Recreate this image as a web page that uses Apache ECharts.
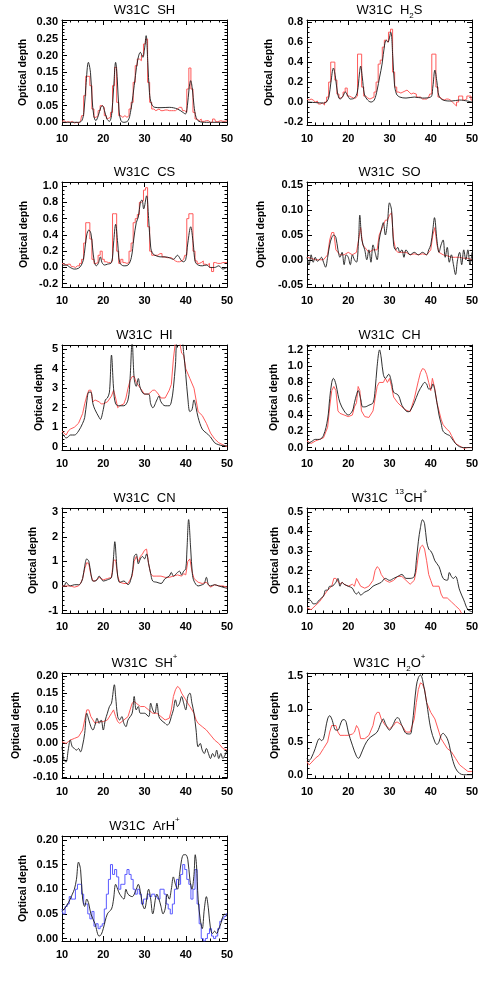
<!DOCTYPE html>
<html>
<head>
<meta charset="utf-8">
<script src="https://cdn.jsdelivr.net/npm/echarts@6/dist/echarts.min.js"></script>
<style>
  html, body { margin: 0; padding: 0; background: #fff; }
  #chart { width: 491px; height: 981px; }
</style>
</head>
<body>
<div id="chart"></div>
<script>
// velocity (km/s) vs optical depth
const velTicks = [10, 20, 30, 40, 50];

const shBlack = [[10,0],[12,0],[14,0],[14.8,0.005],[15.3,0.03],[15.8,0.11],[16.4,0.18],[16.9,0.15],[17.3,0.07],[17.7,0.02],[18.2,0.005],[18.8,0.02],[19.4,0.045],[19.8,0.05],[20.3,0.035],[20.9,0.01],[21.5,0.003],[22,0.02],[22.5,0.1],[23,0.18],[23.4,0.13],[23.8,0.04],[24.3,0.005],[25,0],[26,0.005],[26.6,0.03],[27.2,0.08],[27.8,0.14],[28.4,0.19],[29,0.21],[29.6,0.195],[30,0.22],[30.4,0.26],[30.8,0.18],[31.2,0.09],[31.7,0.055],[32.5,0.045],[34,0.044],[36,0.045],[38,0.04],[39.3,0.03],[39.9,0.025],[40.4,0.05],[40.8,0.1],[41.2,0.125],[41.6,0.1],[42,0.05],[42.5,0.015],[43.2,0.003],[45,0],[50,0]];
const shRed = [[10,0.003],[10.5,0.005],[11,0],[11.5,0.002],[12,0],[12.5,0.003],[13,-0.002],[13.5,0],[14,-0.002],[14.5,0.003],[15,0.02],[15.5,0.08],[16,0.138],[16.5,0.138],[17,0.11],[17.5,0.04],[18,0.015],[18.5,0.02],[19,0.035],[19.5,0.05],[20,0.045],[20.5,0.02],[21,0.012],[21.5,0.015],[22,0.03],[22.5,0.11],[23,0.165],[23.5,0.06],[24,0.02],[24.5,0.015],[25,0.02],[25.5,0.015],[26,0.02],[26.5,0.04],[27,0.06],[27.5,0.12],[28,0.17],[28.5,0.19],[29,0.185],[29.5,0.2],[30,0.235],[30.5,0.25],[31,0.12],[31.5,0.06],[32,0.04],[32.5,0.035],[33,0.04],[34,0.035],[35,0.037],[36,0.035],[37,0.035],[38,0.04],[38.5,0.045],[39,0.045],[39.5,0.035],[40,0.03],[40.5,0.1],[41,0.163],[41.5,0.1],[42,0.03],[42.5,0.01],[43,0.005],[43.5,0.01],[44,0.003],[45,0.005],[46,0],[47,0.01],[47.5,0.002],[48,0.005],[49,0.003],[50,0.005]];

const h2sBlack = [[10,0],[12,-0.005],[14,-0.01],[14.7,0],[15.3,0.05],[15.8,0.2],[16.4,0.34],[16.9,0.25],[17.4,0.09],[18,0.03],[18.6,0.05],[19.3,0.1],[19.8,0.07],[20.5,0.03],[21.5,0.04],[22.2,0.1],[22.7,0.28],[23,0.36],[23.4,0.25],[23.9,0.08],[24.5,0.03],[25.5,0],[26.3,0.02],[27,0.12],[27.6,0.25],[28.2,0.38],[28.8,0.57],[29.2,0.62],[29.6,0.6],[30.3,0.7],[30.8,0.45],[31.2,0.18],[31.7,0.08],[32.5,0.05],[34,0.04],[36,0.05],[38,0.04],[40,0.05],[40.5,0.15],[41,0.32],[41.5,0.2],[42,0.06],[43,0.02],[45,0.01],[47,0.02],[50,0]];
const h2sRed = [[10,0.03],[10.5,0.02],[11,0.03],[11.5,0.02],[12,0],[12.5,0.01],[13,-0.02],[13.5,-0.01],[14,-0.03],[14.5,0],[15,0.05],[15.5,0.2],[16,0.4],[16.5,0.4],[17,0.22],[17.5,0.08],[18,0.04],[18.5,0.06],[19,0.1],[19.5,0.14],[20,0.06],[20.5,0.05],[21,0.04],[21.5,0.04],[22,0.06],[22.5,0.48],[23,0.48],[23.5,0.15],[24,0.06],[24.5,0.04],[25,0.03],[25.5,0.04],[26,0.05],[26.5,0.1],[27,0.2],[27.5,0.38],[28,0.42],[28.5,0.55],[29,0.62],[29.5,0.6],[30,0.7],[30.5,0.73],[31,0.3],[31.5,0.15],[32,0.1],[32.5,0.09],[33,0.1],[33.5,0.11],[34,0.12],[34.5,0.1],[35,0.08],[35.5,0.09],[36,0.08],[37,0.05],[38,0.03],[39,0.03],[39.5,0.05],[40,0.08],[40.5,0.48],[41,0.48],[41.5,0.15],[42,0.05],[42.5,0.03],[43,0.02],[43.5,0.03],[44,0.03],[44.5,0.02],[45,0],[45.5,-0.02],[46,-0.04],[46.5,0],[47,0.06],[47.5,0.06],[48,0.02],[48.5,0.03],[49,0.06],[49.5,0.06],[50,0.02]];

const csBlack = [[10,0.02],[11,0.03],[12,0],[13,-0.02],[14,-0.01],[14.7,0.03],[15.2,0.1],[15.6,0.25],[16,0.4],[16.5,0.46],[17,0.42],[17.4,0.25],[17.8,0.08],[18.3,0.02],[18.8,0.05],[19.3,0.13],[19.7,0.06],[20.3,0.03],[21,0.04],[22,0.06],[22.5,0.3],[23,0.53],[23.5,0.3],[24,0.06],[25,0.02],[26,0.03],[26.8,0.12],[27.4,0.35],[28,0.55],[28.5,0.62],[29,0.8],[29.4,0.83],[29.8,0.72],[30.5,0.88],[31,0.6],[31.5,0.25],[32,0.17],[33,0.14],[34,0.13],[35,0.13],[36,0.12],[37,0.1],[38,0.15],[38.5,0.12],[39,0.08],[39.5,0.07],[40,0.1],[40.5,0.3],[41.2,0.5],[41.8,0.3],[42.3,0.07],[43,0.03],[44,0.02],[45,0.03],[46,0],[47,0],[48,0.02],[49,-0.02],[50,0]];
const csRed = [[10,0.05],[10.5,0.04],[11,0.03],[11.5,0.04],[12,0.04],[12.5,0.01],[13,0],[13.5,0.02],[14,0.02],[14.5,0.05],[15,0.1],[15.5,0.3],[16,0.55],[16.5,0.55],[17,0.35],[17.5,0.1],[18,0.05],[18.5,0.06],[19,0.15],[19.5,0.2],[20,0.1],[20.5,0.07],[21,0.06],[21.5,0.06],[22,0.08],[22.5,0.66],[23,0.66],[23.5,0.2],[24,0.05],[24.5,0.1],[25,0.06],[25.5,0.05],[26,0.06],[26.5,0.2],[27,0.3],[27.5,0.55],[28,0.6],[28.5,0.65],[29,0.8],[29.5,0.82],[30,0.95],[30.5,0.98],[31,0.5],[31.5,0.2],[32,0.15],[32.5,0.15],[33,0.15],[33.5,0.17],[34,0.17],[34.5,0.13],[35,0.12],[36,0.12],[37,0.1],[37.5,0.08],[38,0.07],[39,0.08],[39.5,0.1],[40,0.15],[40.5,0.6],[41,0.66],[41.5,0.66],[42,0.2],[42.5,0.08],[43,0.05],[43.5,0.06],[44,0.08],[44.5,0.04],[45,0.03],[45.5,0.05],[46,0],[46.5,-0.05],[47,0.06],[47.5,0.05],[48,0.05],[49,0.06],[50,0.06]];

const soBlack = [[10,0.005],[10.5,-0.01],[11,0.01],[11.5,-0.005],[12,0.005],[12.5,-0.003],[13,0],[13.5,0.005],[14,-0.005],[14.5,-0.015],[15,0.005],[15.5,0.03],[16,0.045],[16.5,0.05],[17,0.045],[17.5,0.02],[18,0.005],[18.5,0.015],[19,-0.01],[19.5,0.01],[20,0.005],[20.5,-0.01],[21,0.01],[21.5,0],[22,-0.005],[22.5,0.04],[22.8,0.09],[23.3,0.04],[24,0.02],[24.5,0],[25,0.02],[25.5,-0.005],[26,0.03],[26.5,0.015],[27,0],[27.5,0.04],[28,0.06],[28.5,0.075],[29,0.05],[29.5,0.075],[30,0.115],[30.5,0.1],[31,0.03],[31.5,0.02],[32,0.025],[32.5,0.015],[33,0.02],[33.5,0.005],[34,0.02],[35,0.01],[36,0.015],[37,0.01],[38,0.015],[39,0.01],[39.5,0.02],[40,0.03],[40.5,0.06],[40.9,0.085],[41.5,0.04],[42,0.015],[42.5,0.03],[43,0.04],[43.5,0.005],[44,0.025],[44.5,-0.005],[45,0.01],[45.5,-0.01],[46,-0.03],[46.5,0],[47,0.015],[47.5,-0.01],[48,0.02],[48.5,0],[49,0.02],[49.5,-0.01],[50,0.015]];
const soRed = [[10,0.005],[11,0.003],[12,0],[13,0],[14,0],[15,0.01],[15.5,0.04],[16,0.055],[16.5,0.055],[17,0.02],[18,0.01],[19,0.01],[20,0.015],[21,0.01],[22,0.015],[22.5,0.04],[23,0.065],[23.5,0.03],[24,0.025],[24.5,0.02],[25,0.015],[26,0.02],[27,0.02],[27.5,0.05],[28,0.06],[28.5,0.07],[29,0.08],[29.5,0.08],[30,0.09],[30.5,0.095],[31,0.04],[31.5,0.02],[32,0.015],[33,0.015],[34,0.015],[35,0.01],[36,0.012],[37,0.01],[38,0.012],[39,0.01],[40,0.02],[40.5,0.05],[41,0.065],[41.5,0.03],[42,0.015],[43,0.01],[44,0.008],[45,0.005],[46,0.005],[47,0.005],[48,0.003],[49,0.003],[50,0]];

const hiBlack = [[10,0.7],[10.5,0.55],[11,0.45],[11.5,0.5],[12,0.6],[13,0.6],[14,0.8],[15,1.2],[15.5,1.5],[16,2.3],[16.5,2.8],[17,2.8],[17.5,2.2],[18,1.9],[19,1.5],[19.3,1.4],[20,1.9],[20.5,2.4],[21,2.5],[21.5,2.8],[22,4.7],[22.5,3.0],[23,2.2],[24,2.1],[25,2.1],[26,2.4],[26.5,3.5],[27,5.4],[27.5,3.5],[28,3.1],[28.5,3.5],[29,3.0],[30,2.7],[31,2.7],[31.5,2.2],[32,2.0],[33,2.4],[33.5,2.6],[34,2.3],[35,2.1],[36,2.1],[36.5,2.3],[37,3.0],[37.5,4.2],[38,5.4],[39,5.4],[39.5,4.8],[40,3.7],[40.5,2.5],[41,1.8],[41.5,1.9],[42,2.4],[42.5,2.0],[43,1.5],[44,0.9],[45,0.7],[46,0.5],[47,0.2],[48,0.1],[49,0.05],[50,0.05]];
const hiRed = [[10,0.8],[10.5,0.7],[11,0.6],[11.5,0.8],[12,0.9],[13,1.0],[14,1.2],[15,1.7],[15.5,2.2],[16,2.6],[16.5,2.9],[17,2.9],[17.5,2.3],[18,2.4],[19,2.3],[19.5,2.2],[20,2.2],[21,2.3],[22,2.6],[22.5,2.9],[23,2.5],[23.5,2.0],[24,2.1],[25,2.2],[25.5,2.5],[26,3.0],[26.5,3.4],[27,3.6],[27.5,3.6],[28,3.3],[29,3.0],[30,2.7],[31,2.7],[32,2.9],[32.5,2.9],[33,2.8],[34,2.5],[35,2.5],[36,2.9],[36.5,3.2],[37,4.5],[37.5,5.4],[38.5,5.4],[39,4.8],[39.5,4.7],[40,4.0],[41,3.5],[42,3.0],[43,1.8],[44,1.6],[45,1.2],[46,0.7],[47,0.4],[48,0.2],[49,0.1],[50,0]];

const chBlack = [[10,0.05],[11,0.07],[12,0.1],[13,0.1],[14,0.15],[15,0.35],[15.5,0.6],[16,0.8],[16.4,0.85],[17,0.78],[17.5,0.65],[18,0.55],[19,0.45],[20,0.4],[21,0.45],[21.5,0.55],[22,0.65],[22.4,0.7],[23,0.6],[23.5,0.5],[24,0.5],[25,0.52],[26,0.55],[26.5,0.7],[27,1.0],[27.6,1.2],[28,1.1],[28.5,0.9],[29,0.85],[29.8,0.9],[30.5,0.8],[31,0.68],[32,0.65],[32.5,0.6],[33,0.52],[34,0.45],[34.5,0.44],[35,0.45],[36,0.55],[37,0.68],[38,0.77],[38.5,0.8],[39,0.78],[39.5,0.72],[40,0.72],[40.5,0.78],[41,0.7],[42,0.4],[42.5,0.3],[43,0.2],[44,0.16],[44.5,0.15],[45,0.12],[46,0.05],[47,0.01],[48,0],[50,0]];
const chRed = [[10,0.08],[11,0.05],[12,0.08],[13,0.1],[14,0.12],[15,0.25],[15.5,0.5],[16,0.7],[16.5,0.75],[17,0.7],[17.5,0.45],[18,0.42],[19,0.4],[20,0.38],[21,0.4],[21.5,0.5],[22,0.55],[22.4,0.75],[22.8,0.7],[23.2,0.45],[24,0.38],[25,0.37],[26,0.45],[26.5,0.6],[27,0.75],[27.5,0.8],[28.5,0.8],[29,0.85],[29.5,0.8],[30,0.85],[30.5,0.75],[31,0.62],[32,0.55],[33,0.5],[34,0.46],[35,0.44],[36,0.6],[37,0.82],[37.5,0.92],[38,0.97],[38.5,0.96],[39,0.9],[39.5,0.8],[40,0.7],[40.4,0.85],[41,0.72],[41.5,0.55],[42,0.45],[42.5,0.35],[43,0.28],[44,0.22],[44.5,0.2],[45,0.15],[46,0.05],[47,0.02],[48,-0.01],[49,0],[50,0]];

const cnBlack = [[10,0.05],[10.5,0],[11,0.15],[11.5,0.05],[12,0],[13,0.05],[14,0.05],[14.5,0.1],[15,0.3],[15.5,0.8],[16,1.1],[16.5,1.0],[17,0.5],[17.5,0.2],[18,0.2],[18.5,0.25],[19,0.4],[19.5,0.3],[20,0.2],[21,0.25],[22,0.35],[22.5,1.2],[22.8,1.8],[23.2,1.0],[23.5,0.4],[24,0.15],[25,0.2],[26,0.05],[27,0.5],[27.5,1.2],[28,1.3],[28.5,0.9],[29,1.1],[29.5,1.2],[30,1.1],[30.5,1.3],[31,0.9],[31.5,0.5],[32,0.2],[33,0.15],[34,0.1],[35,0.3],[36,0.4],[36.5,0.55],[37,0.4],[38,0.55],[38.5,0.6],[39,0.45],[39.5,0.6],[40,0.7],[40.3,1.5],[40.7,2.7],[41.2,1.5],[41.6,0.5],[42,0.2],[43,0],[44,0.05],[44.5,0.1],[45,0.35],[45.5,0.05],[46,0],[47,0.05],[48,0],[49,-0.05],[50,-0.1]];
const cnRed = [[10,0],[11,0],[12,0],[13,-0.05],[14,0],[14.5,0.1],[15,0.3],[15.5,0.7],[16,0.95],[16.5,0.9],[17,0.45],[17.5,0.2],[18,0.2],[19,0.35],[19.5,0.3],[20,0.25],[21,0.3],[22,0.35],[22.5,1.05],[23,1.05],[23.5,0.4],[24,0.15],[25,0.1],[26,0.1],[27,0.4],[27.5,1.0],[28,1.2],[28.5,1.0],[29,1.2],[29.5,1.3],[30,1.45],[30.5,1.5],[31,0.9],[31.5,0.5],[32,0.4],[33,0.4],[34,0.4],[35,0.35],[36,0.35],[37,0.4],[38,0.45],[39,0.4],[39.5,0.5],[40,0.45],[40.5,1.0],[41,1.1],[41.5,0.6],[42,0.3],[43,0.15],[44,0.1],[45,0.15],[46,-0.05],[47,0.05],[48,0],[49,0],[50,-0.05]];

const ch13Black = [[10,0.05],[10.5,0.05],[11,0.045],[11.5,0.03],[12,0.03],[13,0.05],[14,0.07],[14.5,0.1],[15,0.1],[15.5,0.12],[16,0.12],[17,0.14],[17.5,0.16],[18,0.12],[18.5,0.14],[19,0.13],[20,0.12],[21,0.11],[21.5,0.09],[22,0.08],[22.5,0.09],[23,0.075],[24,0.09],[25,0.1],[26,0.12],[27,0.13],[28,0.14],[29,0.16],[30,0.15],[31,0.16],[32,0.17],[33,0.18],[34,0.16],[35,0.16],[36,0.17],[36.5,0.25],[37,0.35],[37.5,0.42],[38,0.46],[38.5,0.44],[39,0.35],[39.5,0.31],[40,0.3],[40.5,0.28],[41,0.25],[42,0.22],[43,0.16],[44,0.15],[44.5,0.19],[45,0.17],[45.5,0.16],[46,0.17],[47,0.1],[48,0.05],[49,0],[50,-0.01]];
const ch13Red = [[10,0.01],[11,0],[12,0.02],[13,0.04],[14,0.07],[15,0.1],[16,0.12],[16.5,0.16],[17,0.16],[18,0.13],[18.5,0.14],[19,0.13],[20,0.12],[21,0.13],[21.5,0.12],[22,0.16],[22.3,0.17],[23,0.12],[24,0.11],[25,0.12],[26,0.15],[26.5,0.2],[27,0.22],[27.5,0.21],[28,0.18],[29,0.15],[30,0.14],[31,0.15],[32,0.17],[33,0.17],[34,0.15],[35,0.13],[36,0.15],[36.5,0.2],[37,0.28],[37.5,0.32],[38,0.33],[38.5,0.31],[39,0.25],[39.5,0.18],[40,0.15],[40.5,0.12],[41,0.12],[42,0.12],[42.5,0.08],[43,0.06],[44,0.06],[45,0.04],[46,0.02],[47,0],[47.5,-0.02]];

const shpBlack = [[10,-0.01],[10.5,-0.05],[11,-0.055],[11.5,-0.02],[12,0.01],[12.5,-0.01],[13,-0.015],[13.5,-0.02],[14,-0.015],[14.5,-0.025],[15,-0.005],[15.5,0.03],[16,0.09],[16.5,0.07],[17,0.05],[17.5,0.04],[18,0.055],[18.5,0.075],[19,0.06],[19.5,0.07],[20,0.04],[20.5,0.07],[21,0.09],[21.5,0.11],[22,0.12],[22.7,0.175],[23,0.14],[23.5,0.08],[24,0.07],[24.5,0.08],[25,0.06],[25.5,0.05],[26,0.07],[27,0.09],[27.5,0.14],[28,0.1],[28.5,0.11],[29,0.09],[30,0.09],[31,0.08],[31.5,0.12],[32,0.1],[32.5,0.09],[33,0.12],[33.5,0.08],[34,0.07],[35,0.06],[35.5,0.055],[36,0.06],[36.5,0.08],[37,0.1],[37.5,0.13],[38,0.11],[38.5,0.12],[39,0.14],[39.5,0.12],[40,0.1],[40.5,0.14],[41,0.15],[41.5,0.12],[42,0.09],[42.5,0.04],[43,-0.01],[43.5,0],[44,-0.02],[44.5,-0.03],[45,-0.015],[45.5,-0.03],[46,-0.045],[46.5,-0.03],[47,-0.04],[47.5,-0.02],[48,-0.045],[48.5,-0.03],[49,-0.045],[49.5,-0.035],[50,-0.02]];
const shpRed = [[10,0.005],[11,0],[11.5,0.005],[12,0.01],[13,0.015],[14,0.02],[15,0.04],[15.5,0.07],[16,0.1],[16.5,0.1],[17,0.08],[17.5,0.07],[18,0.06],[19,0.065],[20,0.065],[21,0.07],[22,0.09],[22.5,0.1],[23,0.08],[23.5,0.065],[24,0.06],[25,0.07],[26,0.08],[26.5,0.1],[27,0.12],[27.5,0.125],[28,0.12],[29,0.11],[30,0.11],[31,0.1],[32,0.09],[33,0.09],[34,0.08],[35,0.07],[36,0.075],[36.5,0.1],[37,0.14],[37.5,0.16],[38,0.17],[38.5,0.165],[39,0.15],[40,0.13],[40.5,0.12],[41,0.11],[42,0.09],[42.5,0.07],[43,0.06],[44,0.05],[45,0.04],[46,0.025],[47,0.01],[48,0],[49,-0.015],[50,-0.02]];

const h2opBlack = [[10,0.25],[10.5,0.22],[11,0.25],[12,0.4],[12.5,0.5],[13,0.55],[13.5,0.52],[14,0.55],[14.5,0.7],[15,0.85],[15.5,0.9],[16,0.85],[17,0.68],[17.5,0.68],[18,0.75],[18.5,0.83],[19,0.84],[19.5,0.8],[20,0.65],[21,0.45],[22,0.28],[22.5,0.25],[23,0.3],[24,0.45],[25,0.55],[26,0.6],[27,0.65],[28,0.8],[28.5,0.85],[29,0.78],[30,0.68],[31,0.78],[31.5,0.85],[32,0.87],[33,0.75],[34,0.63],[35,0.62],[35.5,0.75],[36,1.05],[36.5,1.35],[37,1.48],[37.5,1.52],[38,1.45],[39,1.1],[40,0.7],[41,0.5],[41.5,0.46],[42,0.5],[42.5,0.6],[43,0.63],[43.5,0.6],[44,0.55],[44.5,0.45],[45,0.3],[46,0.1],[47,0.02],[48,0],[50,0]];
const h2opRed = [[10,0.2],[10.5,0.15],[11,0.18],[12,0.25],[13,0.3],[14,0.4],[15,0.5],[15.5,0.65],[16,0.75],[17,0.75],[17.5,0.65],[18,0.6],[19,0.6],[20,0.6],[21,0.62],[21.5,0.65],[22,0.75],[22.5,0.7],[23,0.55],[24,0.55],[25,0.6],[26,0.75],[26.5,0.9],[27,0.95],[27.5,0.95],[28,0.85],[29,0.75],[30,0.7],[31,0.75],[31.5,0.8],[32,0.8],[33,0.75],[34,0.65],[35,0.65],[36,0.85],[36.5,1.1],[37,1.3],[37.5,1.4],[38,1.38],[38.5,1.3],[39,1.1],[40,0.95],[41,0.85],[42,0.65],[42.5,0.55],[43,0.5],[44,0.4],[45,0.35],[46,0.25],[47,0.15],[48,0.1],[49,0.05],[50,0.05]];

const arhBlack = [[10,0.055],[11,0.065],[12,0.08],[12.5,0.09],[13,0.1],[13.5,0.12],[14,0.155],[14.5,0.14],[15,0.08],[15.5,0.065],[16,0.08],[16.5,0.07],[17,0.05],[18,0.03],[19,0.005],[19.5,0.008],[20,0.02],[21,0.05],[22,0.06],[22.5,0.08],[23,0.11],[23.5,0.1],[24,0.09],[25,0.08],[25.5,0.1],[26,0.09],[27,0.085],[28,0.1],[28.5,0.11],[29,0.095],[29.5,0.07],[30,0.06],[31,0.1],[31.5,0.08],[32,0.05],[33,0.09],[33.5,0.08],[34,0.065],[34.5,0.05],[35,0.06],[35.5,0.09],[36,0.08],[36.5,0.1],[37,0.125],[37.5,0.11],[38,0.1],[38.5,0.13],[39,0.16],[39.5,0.17],[40,0.17],[40.5,0.16],[41,0.12],[41.5,0.1],[42,0.13],[42.3,0.17],[42.6,0.15],[43,0.08],[43.5,0.04],[44,0.02],[44.5,0.06],[45,0.085],[45.5,0.06],[46,0.02],[46.5,0.01],[47,0.015],[47.5,0.01],[48,0.02],[48.5,0.03],[49,0.045],[49.5,0.05],[50,0.045]];
const arhBlue = [[10,0.06],[10.5,0.05],[11,0.065],[11.5,0.07],[12,0.085],[12.5,0.08],[13,0.08],[13.5,0.1],[14,0.11],[14.5,0.11],[15,0.09],[15.5,0.07],[16,0.07],[16.5,0.05],[17,0.04],[17.5,0.055],[18,0.025],[18.5,0.03],[19,0.02],[19.5,0.025],[20,0.03],[20.5,0.06],[21,0.09],[21.5,0.12],[22,0.15],[22.5,0.13],[23,0.14],[23.5,0.125],[24,0.1],[24.5,0.11],[25,0.11],[25.5,0.13],[26,0.14],[26.5,0.13],[27,0.12],[27.5,0.1],[28,0.09],[28.5,0.1],[29,0.09],[29.5,0.07],[30,0.08],[30.5,0.08],[31,0.09],[31.5,0.085],[32,0.09],[33,0.085],[33.5,0.08],[34,0.1],[34.5,0.1],[35,0.09],[35.5,0.07],[36,0.06],[36.5,0.05],[37,0.07],[37.5,0.1],[38,0.12],[38.5,0.11],[39,0.13],[39.5,0.15],[40,0.14],[40.5,0.12],[41,0.11],[41.5,0.08],[42,0.1],[42.5,0.14],[43,0.07],[43.5,0.03],[44,0],[44.5,-0.005],[45,0],[45.5,0.01],[46,0.02],[46.5,0.005],[47,0],[47.5,0.005],[48,0.02],[48.5,0.035],[49,0.04],[49.5,0.045],[50,0.05]];

// y tick labels per panel
const shTicks = [0, 0.05, 0.10, 0.15, 0.20, 0.25, 0.30];
const h2sTicks = [-0.2, 0, 0.2, 0.4, 0.6, 0.8];
const csTicks = [-0.2, 0, 0.2, 0.4, 0.6, 0.8, 1.0];
const soTicks = [-0.05, 0, 0.05, 0.10, 0.15];
const hiTicks = [0, 1, 2, 3, 4, 5];
const chTicks = [0, 0.2, 0.4, 0.6, 0.8, 1.0, 1.2];
const cnTicks = [-1, 0, 1, 2, 3];
const ch13Ticks = [0, 0.1, 0.2, 0.3, 0.4, 0.5];
const shpTicks = [-0.10, -0.05, 0, 0.05, 0.10, 0.15, 0.20];
const h2opTicks = [0, 0.5, 1.0, 1.5];
const arhTicks = [0, 0.05, 0.10, 0.15, 0.20];

const FONT = 'Liberation Sans';
const colLeft = [62, 307];
const rowTop = [20, 182, 345, 508, 673, 836];
const plotW = 165, plotH = 105;

// steps: the coloured spectrum is drawn as a histogram where it was sampled finely enough
const panels = [
    { title: 'W31C  SH', col: 0, row: 0, yMin: -0.008, yMax: 0.307, ticks: shTicks, minor: 0.01, dec: 2, gap: 33, steps: true, lines: [[shBlack, 'k'], [shRed, 'r']] },
    { title: 'W31C  H{sub|2}S', col: 1, row: 0, yMin: -0.23, yMax: 0.822, ticks: h2sTicks, minor: 0.05, dec: 1, gap: 32, steps: true, lines: [[h2sBlack, 'k'], [h2sRed, 'r']] },
    { title: 'W31C  CS', col: 0, row: 1, yMin: -0.24, yMax: 1.05, ticks: csTicks, minor: 0.05, dec: 1, gap: 32, steps: true, lines: [[csBlack, 'k'], [csRed, 'r']] },
    { title: 'W31C  SO', col: 1, row: 1, yMin: -0.055, yMax: 0.157, ticks: soTicks, minor: 0.01, dec: 2, gap: 40, steps: false, lines: [[soBlack, 'k'], [soRed, 'r']] },
    { title: 'W31C  HI', col: 0, row: 2, yMin: -0.17, yMax: 5.22, ticks: hiTicks, minor: 0.2, dec: 0, gap: 17, steps: false, lines: [[hiBlack, 'k'], [hiRed, 'r']] },
    { title: 'W31C  CH', col: 1, row: 2, yMin: -0.03, yMax: 1.26, ticks: chTicks, minor: 0.05, dec: 1, gap: 27, steps: false, lines: [[chBlack, 'k'], [chRed, 'r']] },
    { title: 'W31C  CN', col: 0, row: 3, yMin: -1.1, yMax: 3.17, ticks: cnTicks, minor: 0.2, dec: 0, gap: 23, steps: false, lines: [[cnBlack, 'k'], [cnRed, 'r']] },
    { title: 'W31C  {sup|13}CH{sup|+}', col: 1, row: 3, yMin: -0.017, yMax: 0.52, ticks: ch13Ticks, minor: 0.02, dec: 1, gap: 26, steps: false, lines: [[ch13Black, 'k'], [ch13Red, 'r']] },
    { title: 'W31C  SH{sup|+}', col: 0, row: 4, yMin: -0.103, yMax: 0.21, ticks: shpTicks, minor: 0.01, dec: 2, gap: 40, steps: false, lines: [[shpBlack, 'k'], [shpRed, 'r']] },
    { title: 'W31C  H{sub|2}O{sup|+}', col: 1, row: 4, yMin: -0.05, yMax: 1.55, ticks: h2opTicks, minor: 0.1, dec: 1, gap: 26, steps: false, lines: [[h2opBlack, 'k'], [h2opRed, 'r']] },
    { title: 'W31C  ArH{sup|+}', col: 0, row: 5, yMin: -0.005, yMax: 0.208, ticks: arhTicks, minor: 0.01, dec: 2, gap: 33, steps: true, lines: [[arhBlack, 'k'], [arhBlue, 'b']] }
];

const lineColors = { k: '#1a1a1a', r: '#ff5a5a', b: '#5a5aff' };

function minorValues(min, max, step) {
    let out = [];
    let start = Math.ceil(min / step - 1e-9);
    for (let k = start; k * step <= max + 1e-9; k++) {
        out.push(+(k * step).toFixed(4));
    }
    return out;
}

function init() {
    let chart = echarts.init(document.getElementById('chart'));
    let option = { animation: false, backgroundColor: '#fff', grid: [], xAxis: [], yAxis: [], series: [], graphic: [] };
    let black = { color: '#000', width: 1 };
    let labelFont = { fontFamily: FONT, fontSize: 11, fontWeight: 'bold', color: '#000' };

    panels.forEach((p, i) => {
        let left = colLeft[p.col], top = rowTop[p.row];
        option.grid.push({ left: left, top: top, width: plotW, height: plotH });

        let xi = option.xAxis.length;
        ['bottom', 'top'].forEach(pos => {
            option.xAxis.push({
                gridIndex: i, type: 'value', position: pos, min: 10, max: 50, interval: 10,
                axisLine: { show: true, onZero: false, lineStyle: black },
                axisTick: { show: true, inside: true, length: 5, lineStyle: black },
                minorTick: { show: true, splitNumber: 5, length: 2.5, lineStyle: black },
                axisLabel: Object.assign({ show: pos === 'bottom', margin: 8 }, labelFont),
                splitLine: { show: false }
            });
        });

        let yi = option.yAxis.length;
        let minors = minorValues(p.yMin, p.yMax, p.minor);
        ['left', 'right'].forEach(pos => {
            option.yAxis.push({
                gridIndex: i, type: 'value', position: pos, min: p.yMin, max: p.yMax,
                axisLine: { show: true, onZero: false, lineStyle: black },
                axisTick: { show: true, inside: true, length: 5, customValues: p.ticks, lineStyle: black },
                axisLabel: Object.assign({ show: pos === 'left', margin: 4, customValues: p.ticks,
                    formatter: v => Number(v).toFixed(p.dec) }, labelFont),
                splitLine: { show: false },
                name: pos === 'left' ? 'Optical depth' : '',
                nameLocation: 'middle', nameGap: p.gap, nameRotate: 90,
                nameTextStyle: { fontFamily: FONT, fontSize: 10.5, fontWeight: 'bold', color: '#000' }
            });
        });
        ['left', 'right'].forEach(pos => {
            option.yAxis.push({
                gridIndex: i, type: 'value', position: pos, min: p.yMin, max: p.yMax,
                axisLine: { show: false },
                axisTick: { show: true, inside: true, length: 2.5, customValues: minors, lineStyle: black },
                axisLabel: { show: false },
                splitLine: { show: false }
            });
        });

        p.lines.forEach(([data, c]) => {
            let isBlack = c === 'k';
            option.series.push({
                type: 'line', xAxisIndex: xi, yAxisIndex: yi, data: data,
                showSymbol: false, symbol: 'none',
                step: !isBlack && p.steps ? 'middle' : false,
                smooth: isBlack ? 0.35 : false,
                lineStyle: { color: lineColors[c], width: isBlack ? 0.9 : 1 },
                z: isBlack ? 3 : 2
            });
        });

        option.graphic.push({
            type: 'text', x: left + plotW / 2, y: top - 10, silent: true,
            style: {
                text: p.title, align: 'center', verticalAlign: 'middle',
                fontFamily: FONT, fontSize: 13, fill: '#000', lineHeight: 20,
                rich: {
                    sub: { fontFamily: FONT, fontSize: 8, verticalAlign: 'bottom', lineHeight: 10, fill: '#000' },
                    sup: { fontFamily: FONT, fontSize: 8, verticalAlign: 'top', lineHeight: 13, fill: '#000' }
                }
            }
        });
    });

    chart.setOption(option);
}

window.onload = init;
</script>
</body>
</html>
